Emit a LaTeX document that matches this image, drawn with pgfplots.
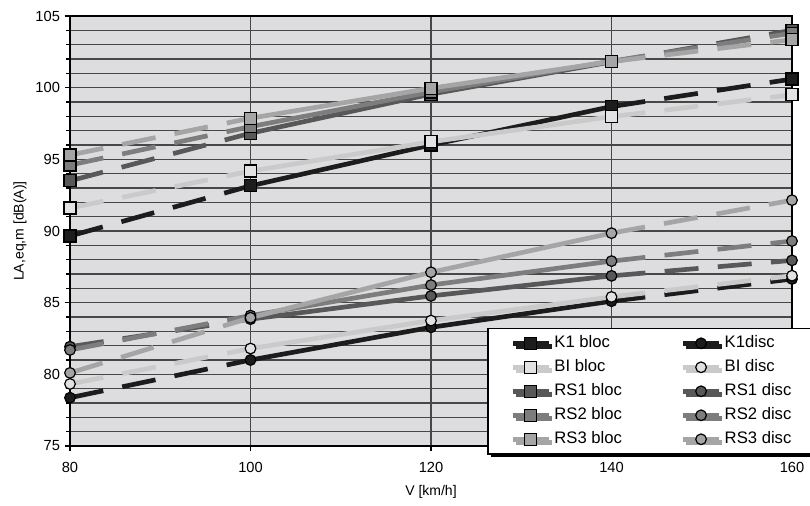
\documentclass[border=0pt]{standalone}
\usepackage{fontspec}
\setmainfont{Liberation Sans}
\usepackage{pgfplots}
\pgfplotsset{compat=1.18}
\usepackage{pgfplotstable}
\usetikzlibrary{shadows}

\definecolor{bg}{RGB}{221,221,223}
\definecolor{cK1}{RGB}{28,28,28}
\definecolor{cBI}{RGB}{202,202,202}
\definecolor{cBIm}{RGB}{226,226,226}
\definecolor{cRS1}{RGB}{88,88,88}
\definecolor{cRS2}{RGB}{125,125,125}
\definecolor{cRS3}{RGB}{165,165,165}

% LA,eq,m per speed, bloc / disc variants
\pgfplotstableread{
V   K1b    K1d    BIb    BId    RS1b   RS1d   RS2b   RS2d   RS3b   RS3d
80  89.65  78.37  91.60  79.33  93.50  81.93  94.60  81.70  95.30  80.10
100 93.15  81.00  94.18  81.80  96.82  83.85  97.28  84.10  97.87  83.95
120 96.00  83.28  96.22  83.75  99.55  85.47  99.70  86.23  99.96  87.12
140 98.68  85.10  97.98  85.40  101.80 86.87  101.85 87.90  101.82 89.85
160 100.60 86.65  99.50  86.88  104.00 87.95  103.80 89.30  103.35 92.15
}\data

\pgfplotsset{
  bloc/.style 2 args={line width=3.5pt, color=#1, mark=square*, mark size=4.5pt,
    mark options={solid, draw=black, line width=0.9pt, fill=#2}},
  disc/.style 2 args={line width=3.5pt, color=#1, mark=*, mark size=4pt,
    mark options={solid, draw=black, line width=0.9pt, fill=#2}},
  sK1b/.style={bloc={cK1}{cK1}}, sK1d/.style={disc={cK1}{cK1}},
  sBIb/.style={bloc={cBI}{cBIm}}, sBId/.style={disc={cBI}{cBIm}},
  sRS1b/.style={bloc={cRS1}{cRS1}}, sRS1d/.style={disc={cRS1}{cRS1}},
  sRS2b/.style={bloc={cRS2}{cRS2}}, sRS2d/.style={disc={cRS2}{cRS2}},
  sRS3b/.style={bloc={cRS3}{cRS3}}, sRS3d/.style={disc={cRS3}{cRS3}},
  longdash/.style={dash pattern=on 25.5pt off 14.5pt},
}

% dashed 80-100, solid 100-140, dashed 140-160, then the marks
\newcommand{\drawseries}[2]{%
  \addplot[#1, forget plot, mark=none, longdash, restrict x to domain=80:100] table[x=V, y=#2] {\data};
  \addplot[#1, forget plot, mark=none, restrict x to domain=100:140] table[x=V, y=#2] {\data};
  \addplot[#1, forget plot, mark=none, longdash, restrict x to domain=140:160] table[x=V, y=#2] {\data};
  \addplot[#1, forget plot, only marks] table[x=V, y=#2] {\data};
}

\begin{document}
\begin{tikzpicture}
\begin{axis}[
  name=ax,
  scale only axis,
  width=541.5pt, height=322.5pt,
  xmin=80, xmax=160, ymin=75, ymax=105,
  xtick={80,100,...,160}, ytick={75,80,...,105},
  minor y tick num=4,
  xtick pos=bottom, ytick pos=left,
  tick align=outside,
  major tick length=4pt, minor tick length=3pt,
  xmajorgrids, ymajorgrids, yminorgrids,
  major grid style={black!72, line width=0.9pt},
  minor grid style={black!72, line width=0.9pt},
  axis line style={black, line width=1.2pt},
  tick style={black, line width=0.9pt},
  axis background/.style={fill=bg},
  tick label style={font=\fontsize{11}{13}\selectfont},
  xticklabel style={yshift=-5pt},
  /pgf/number format/assume math mode=true,
  xlabel={V [km/h]}, ylabel={LA,eq,m [dB(A)]},
  label style={font=\fontsize{10.5}{12}\selectfont},
  xlabel style={at={(axis description cs:0.5,0)}, anchor=center, yshift=-34.5pt},
  ylabel style={at={(axis description cs:0,0.5)}, anchor=center, yshift=37.5pt},
  legend columns=2,
  legend cell align=left,
  legend image code/.code={\draw[mark repeat=2, mark phase=2] plot coordinates {(0pt,0pt) (13.5pt,0pt) (27pt,0pt)};},
  legend style={
    at={(axis description cs:0.5776,0.2744)}, anchor=north west,
    draw=black, line width=1.1pt, fill=white,
    font=\fontsize{12.5}{14}\selectfont,
    inner xsep=17pt, inner ysep=4.9pt, row sep=6pt,
    nodes={inner ysep=0pt, inner xsep=2pt, text height=9.5pt, text depth=2.5pt},
    /tikz/every odd column/.append style={column sep=0.5pt},
    /tikz/every even column/.append style={column sep=42pt},
    drop shadow={shadow xshift=2.5pt, shadow yshift=-2.5pt, fill=black, opacity=1},
  },
]
\addlegendimage{sK1b}\addlegendentry{K1 bloc}
\addlegendimage{sK1d}\addlegendentry{K1disc}
\addlegendimage{sBIb}\addlegendentry{BI bloc}
\addlegendimage{sBId}\addlegendentry{BI disc}
\addlegendimage{sRS1b}\addlegendentry{RS1 bloc}
\addlegendimage{sRS1d}\addlegendentry{RS1 disc}
\addlegendimage{sRS2b}\addlegendentry{RS2 bloc}
\addlegendimage{sRS2d}\addlegendentry{RS2 disc}
\addlegendimage{sRS3b}\addlegendentry{RS3 bloc}
\addlegendimage{sRS3d}\addlegendentry{RS3 disc}

\drawseries{sK1b}{K1b}
\drawseries{sK1d}{K1d}
\drawseries{sBIb}{BIb}
\drawseries{sBId}{BId}
\drawseries{sRS1b}{RS1b}
\drawseries{sRS1d}{RS1d}
\drawseries{sRS2b}{RS2b}
\drawseries{sRS2d}{RS2d}
\drawseries{sRS3b}{RS3b}
\drawseries{sRS3d}{RS3d}
\end{axis}
\pgfresetboundingbox
\path ([shift={(-52.5pt,-44.25pt)}]ax.south west) rectangle ([shift={(13.5pt,12pt)}]ax.north east);
\end{tikzpicture}
\end{document}
